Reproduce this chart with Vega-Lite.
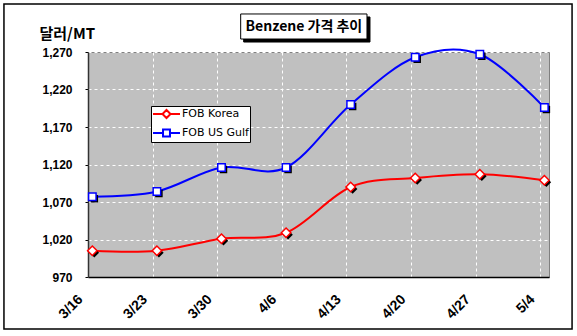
{
  "$schema": "https://vega.github.io/schema/vega-lite/v6.json",
  "width": 461,
  "height": 225,
  "autosize": {"type": "none"},
  "padding": {"left": 88, "top": 52, "right": 28, "bottom": 59},
  "background": "white",
  "data": {
    "values": [
      {"date": "3/16", "day": 0, "series": "FOB Korea", "price": 1005},
      {"date": "3/23", "day": 7, "series": "FOB Korea", "price": 1005},
      {"date": "3/30", "day": 14, "series": "FOB Korea", "price": 1021},
      {"date": "4/6", "day": 21, "series": "FOB Korea", "price": 1029},
      {"date": "4/13", "day": 28, "series": "FOB Korea", "price": 1090},
      {"date": "4/20", "day": 35, "series": "FOB Korea", "price": 1102},
      {"date": "4/27", "day": 42, "series": "FOB Korea", "price": 1107},
      {"date": "5/4", "day": 49, "series": "FOB Korea", "price": 1099},
      {"date": "3/16", "day": 0, "series": "FOB US Gulf", "price": 1077},
      {"date": "3/23", "day": 7, "series": "FOB US Gulf", "price": 1084},
      {"date": "3/30", "day": 14, "series": "FOB US Gulf", "price": 1116},
      {"date": "4/6", "day": 21, "series": "FOB US Gulf", "price": 1116},
      {"date": "4/13", "day": 28, "series": "FOB US Gulf", "price": 1200},
      {"date": "4/20", "day": 35, "series": "FOB US Gulf", "price": 1263},
      {"date": "4/27", "day": 42, "series": "FOB US Gulf", "price": 1267},
      {"date": "5/4", "day": 49, "series": "FOB US Gulf", "price": 1196}
    ]
  },
  "layer": [
    {
      "mark": {"type": "line", "interpolate": "cardinal", "strokeWidth": 2},
      "encoding": {
        "x": {
          "field": "day", "type": "quantitative",
          "scale": {"domain": [-0.47, 49.5], "nice": false, "zero": false},
          "axis": {
            "title": null,
            "values": [-0.45, 6.55, 13.55, 20.55, 27.55, 34.55, 41.55, 48.55],
            "tickCount": 20,
            "labelExpr": "['3/16','3/23','3/30','4/6','4/13','4/20','4/27','5/4'][round((datum.value + 0.45) / 7)]",
            "labelAngle": -45,
            "labelAlign": "right",
            "labelBaseline": "middle",
            "labelFont": "Liberation Sans",
            "labelFontSize": 14,
            "labelFontWeight": "bold",
            "labelColor": "black",
            "labelPadding": 20,
            "labelOffset": -8,
            "labelOverlap": false,
            "labelFlush": false,
            "ticks": false,
            "domainColor": "black",
            "domainWidth": 1.5,
            "grid": true,
            "gridColor": "white",
            "gridDash": [3, 3],
            "gridWidth": 1,
            "gridOpacity": 1
          }
        },
        "y": {
          "field": "price", "type": "quantitative",
          "scale": {"domain": [970, 1270], "nice": false, "zero": false},
          "axis": {
            "values": [970, 1020, 1070, 1120, 1170, 1220, 1270],
            "tickCount": 20,
            "format": ",d",
            "title": "달러/MT",
            "titleAngle": 0,
            "titleX": -49,
            "titleY": -19,
            "titleAlign": "left",
            "titleBaseline": "middle",
            "titleFont": "Noto Sans CJK KR",
            "titleFontSize": 15,
            "titleFontWeight": "bold",
            "titleColor": "black",
            "labelFont": "Liberation Sans",
            "labelFontSize": 12,
            "labelFontWeight": "bold",
            "labelColor": "black",
            "labelPadding": 13,
            "labelOverlap": false,
            "labelFlush": false,
            "tickSize": 3,
            "tickColor": "black",
            "domainColor": "#333333",
            "domainWidth": 1.5,
            "grid": true,
            "gridColor": "white",
            "gridDash": [3, 3],
            "gridWidth": 1,
            "gridOpacity": 1
          }
        },
        "color": {
          "field": "series", "type": "nominal",
          "scale": {"domain": ["FOB Korea", "FOB US Gulf"], "range": ["#ff0000", "#0000ff"]}
        }
      }
    },
    {
      "data": {"values": [{}]},
      "mark": {"type": "rect", "fill": null, "filled": false, "stroke": "black", "strokeWidth": 1.5, "clip": false},
      "encoding": {
        "x": {"datum": -9.58, "type": "quantitative", "scale": {"domain": [-0.47, 49.5], "nice": false, "zero": false}},
        "x2": {"datum": 52.0},
        "y": {"datum": 1334, "type": "quantitative", "scale": {"domain": [970, 1270], "nice": false, "zero": false}},
        "y2": {"datum": 900.7}
      }
    },
    {
      "data": {"values": [{}]},
      "mark": {"type": "rect", "fill": "black", "stroke": "black", "xOffset": 3, "x2Offset": 3, "yOffset": 3, "y2Offset": 3, "clip": false},
      "encoding": {
        "x": {"datum": 16.08, "type": "quantitative", "scale": {"domain": [-0.47, 49.5], "nice": false, "zero": false}},
        "x2": {"datum": 29.77},
        "y": {"datum": 1320.7, "type": "quantitative", "scale": {"domain": [970, 1270], "nice": false, "zero": false}},
        "y2": {"datum": 1287.3}
      }
    },
    {
      "data": {"values": [{}]},
      "mark": {"type": "rect", "fill": "white", "stroke": "black", "strokeWidth": 1, "clip": false},
      "encoding": {
        "x": {"datum": 16.08, "type": "quantitative", "scale": {"domain": [-0.47, 49.5], "nice": false, "zero": false}},
        "x2": {"datum": 29.77},
        "y": {"datum": 1320.7, "type": "quantitative", "scale": {"domain": [970, 1270], "nice": false, "zero": false}},
        "y2": {"datum": 1287.3}
      }
    },
    {
      "data": {"values": [{"title": "Benzene 가격 추이"}]},
      "mark": {"type": "text", "font": "Noto Sans CJK KR", "fontSize": 14, "fontWeight": "bold", "color": "black", "align": "center", "baseline": "middle", "clip": false},
      "encoding": {
        "x": {"datum": 22.93, "type": "quantitative", "scale": {"domain": [-0.47, 49.5], "nice": false, "zero": false}},
        "y": {"datum": 1303.5, "type": "quantitative", "scale": {"domain": [970, 1270], "nice": false, "zero": false}},
        "text": {"field": "title", "type": "nominal"}
      }
    },
    {
      "transform": [{"filter": "datum.series === 'FOB Korea'"}],
      "mark": {"type": "point", "shape": "diamond", "size": 90, "filled": true, "color": "black", "opacity": 1, "xOffset": 2, "yOffset": 2},
      "encoding": {
        "x": {"field": "day", "type": "quantitative", "scale": {"domain": [-0.47, 49.5], "nice": false, "zero": false}},
        "y": {"field": "price", "type": "quantitative", "scale": {"domain": [970, 1270], "nice": false, "zero": false}}
      }
    },
    {
      "transform": [{"filter": "datum.series === 'FOB US Gulf'"}],
      "mark": {"type": "point", "shape": "square", "size": 56, "filled": true, "color": "black", "opacity": 1, "xOffset": 2, "yOffset": 2},
      "encoding": {
        "x": {"field": "day", "type": "quantitative", "scale": {"domain": [-0.47, 49.5], "nice": false, "zero": false}},
        "y": {"field": "price", "type": "quantitative", "scale": {"domain": [970, 1270], "nice": false, "zero": false}}
      }
    },
    {
      "transform": [{"filter": "datum.series === 'FOB Korea'"}],
      "mark": {"type": "point", "shape": "diamond", "size": 90, "filled": false, "fill": "white", "fillOpacity": 1, "stroke": "#ff0000", "opacity": 1, "strokeWidth": 1.5},
      "encoding": {
        "x": {"field": "day", "type": "quantitative", "scale": {"domain": [-0.47, 49.5], "nice": false, "zero": false}},
        "y": {"field": "price", "type": "quantitative", "scale": {"domain": [970, 1270], "nice": false, "zero": false}}
      }
    },
    {
      "transform": [{"filter": "datum.series === 'FOB US Gulf'"}],
      "mark": {"type": "point", "shape": "square", "size": 56, "filled": false, "fill": "white", "fillOpacity": 1, "stroke": "#0000ff", "opacity": 1, "strokeWidth": 1.5},
      "encoding": {
        "x": {"field": "day", "type": "quantitative", "scale": {"domain": [-0.47, 49.5], "nice": false, "zero": false}},
        "y": {"field": "price", "type": "quantitative", "scale": {"domain": [970, 1270], "nice": false, "zero": false}}
      }
    },
    {
      "mark": {"type": "point", "filled": false, "opacity": 0},
      "encoding": {
        "x": {"field": "day", "type": "quantitative", "scale": {"domain": [-0.47, 49.5], "nice": false, "zero": false}},
        "y": {"field": "price", "type": "quantitative", "scale": {"domain": [970, 1270], "nice": false, "zero": false}},
        "shape": {
          "field": "series", "type": "nominal",
          "scale": {"domain": ["FOB Korea", "FOB US Gulf"], "range": [
            "M-1,0H0.58M1.92,0H3.5M1.25,-0.67L1.92,0L1.25,0.67L0.58,0Z",
            "M-1,0H0.67M1.83,0H3.5M0.67,-0.58H1.83V0.58H0.67Z"
          ]},
          "legend": {
            "title": null,
            "orient": "none",
            "legendX": 63,
            "legendY": 54,
            "fillColor": "white",
            "strokeColor": "black",
            "padding": 1,
            "rowPadding": 2,
            "symbolSize": 144,
            "symbolFillColor": "white",
            "symbolStrokeWidth": 2,
            "symbolOpacity": 1,
            "labelOffset": 16,
            "labelFont": "DejaVu Sans",
            "labelFontSize": 11,
            "labelColor": "black"
          }
        },
        "color": {
          "field": "series", "type": "nominal",
          "scale": {"domain": ["FOB Korea", "FOB US Gulf"], "range": ["#ff0000", "#0000ff"]},
          "legend": {
            "title": null,
            "orient": "none",
            "legendX": 63,
            "legendY": 54,
            "fillColor": "white",
            "strokeColor": "black",
            "padding": 1,
            "rowPadding": 2,
            "symbolSize": 144,
            "symbolFillColor": "white",
            "symbolStrokeWidth": 2,
            "symbolOpacity": 1,
            "labelOffset": 16,
            "labelFont": "DejaVu Sans",
            "labelFontSize": 11,
            "labelColor": "black"
          }
        }
      }
    }
  ],
  "config": {
    "view": {"fill": "#c0c0c0", "stroke": "#808080", "strokeWidth": 1},
    "font": "Liberation Sans"
  }
}
